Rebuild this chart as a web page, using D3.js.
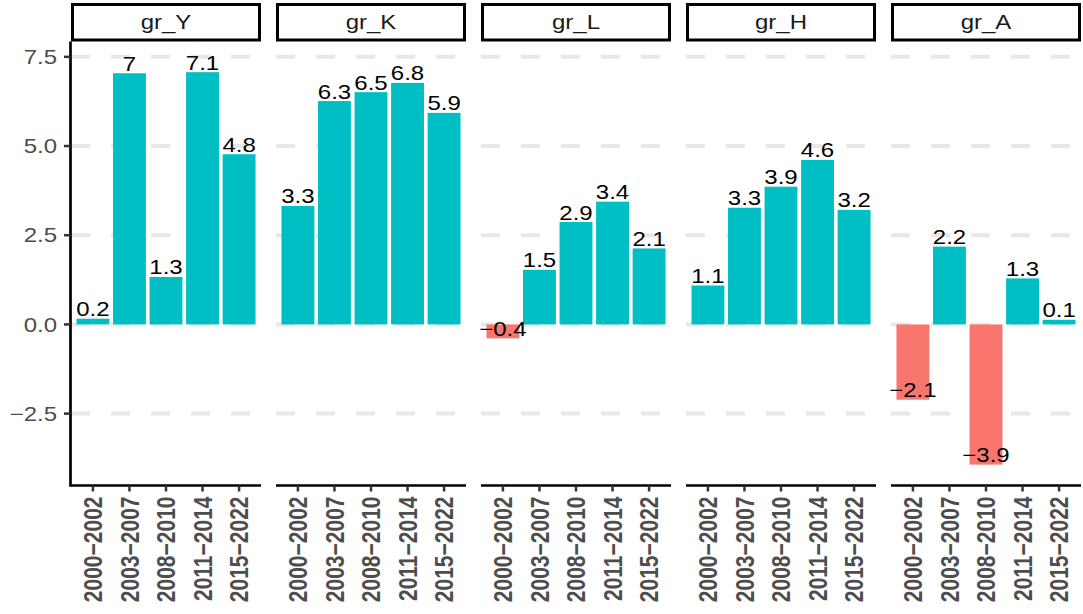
<!DOCTYPE html>
<html>
<head>
<meta charset="utf-8">
<script src="https://cdn.jsdelivr.net/npm/d3@7"></script>
<style>
  body { margin: 0; background: #fff; }
  text { font-family: "Liberation Sans", Arial, sans-serif; }
</style>
</head>
<body>
<div id="chart"></div>
<script>

/* DATA: growth rates by period, one array per facet */
const panels = ["gr_Y", "gr_K", "gr_L", "gr_H", "gr_A"];
const periods = ["2000−2002", "2003−2007", "2008−2010", "2011−2014", "2015−2022"];
const grY = [0.16, 7.04, 1.33, 7.07, 4.77];
const grK = [3.32, 6.26, 6.51, 6.77, 5.93];
const grL = [-0.39, 1.53, 2.87, 3.44, 2.13];
const grH = [1.09, 3.27, 3.86, 4.61, 3.21];
const grA = [-2.11, 2.18, -3.93, 1.29, 0.13];
const yTicks = [-2.5, 0, 2.5, 5, 7.5];

const series = [grY, grK, grL, grH, grA];

/* SVG CANVAS */
const width = 1083;
const height = 614;
const svg = d3.select("#chart")
    .append("svg")
    .attr("width", width)
    .attr("height", height);

// the picture is stretched a bit horizontally, so text gets the same stretch
const stretch = 1.2;

const panelLeft = 71;
const panelStep = 205;
const panelWidth = 190;
const plotTop = 41.5;
const plotBottom = 485.5;

/* SCALES */
const y = d3.scaleLinear()
    .domain([-4.515, 7.93])
    .range([plotBottom, plotTop]);

const x = d3.scalePoint()
    .domain(periods)
    .range([0, panelWidth])
    .padding(0.6);

const barW = x.step() * 0.9;

const fmt = d3.format(".1f");
function label(v) {
    let r = Math.round(v * 10) / 10;
    return String(r).replace("-", "−");
}

/* DRAW EACH FACET */
panels.forEach((name, i) => {
    const g = svg.append("g")
        .attr("transform", `translate(${panelLeft + i * panelStep},0)`);

    // dashed gridlines
    g.append("g")
        .selectAll("line")
        .data(yTicks)
        .enter()
        .append("line")
            .attr("x1", 0)
            .attr("x2", panelWidth)
            .attr("y1", d => y(d))
            .attr("y2", d => y(d))
            .attr("stroke", "#E8E8E8")
            .attr("stroke-width", 4)
            .attr("stroke-dasharray", "19,21");

    // bars
    const data = periods.map((p, j) => ({ period: p, value: series[i][j] }));

    g.append("g")
        .selectAll("rect")
        .data(data)
        .enter()
        .append("rect")
            .attr("x", d => x(d.period) - barW / 2)
            .attr("width", barW)
            .attr("y", d => y(Math.max(0, d.value)))
            .attr("height", d => Math.abs(y(d.value) - y(0)))
            .attr("fill", d => d.value < 0 ? "#F8766D" : "#00BFC4");

    // value labels
    g.append("g")
        .selectAll("text")
        .data(data)
        .enter()
        .append("text")
            .attr("transform", d => `translate(${x(d.period)},${y(d.value) - 2.5}) scale(${stretch},1)`)
            .attr("text-anchor", "middle")
            .attr("font-size", 20)
            .attr("fill", "#000")
            .text(d => label(d.value));

    // strip
    g.append("rect")
        .attr("x", 1.5)
        .attr("y", 4.5)
        .attr("width", panelWidth - 3)
        .attr("height", plotTop - 6)
        .attr("fill", "#fff")
        .attr("stroke", "#000")
        .attr("stroke-width", 3);

    g.append("text")
        .attr("transform", `translate(${panelWidth / 2},${(plotTop + 3) / 2}) scale(${stretch},1)`)
        .attr("text-anchor", "middle")
        .attr("dy", "0.36em")
        .attr("font-size", 20)
        .attr("fill", "#1A1A1A")
        .text(name);

    // x axis
    g.append("line")
        .attr("x1", 0)
        .attr("x2", panelWidth)
        .attr("y1", plotBottom)
        .attr("y2", plotBottom)
        .attr("stroke", "#000")
        .attr("stroke-width", 2.7);

    g.append("g")
        .selectAll("line")
        .data(periods)
        .enter()
        .append("line")
            .attr("x1", d => x(d))
            .attr("x2", d => x(d))
            .attr("y1", plotBottom)
            .attr("y2", plotBottom + 6)
            .attr("stroke", "#333")
            .attr("stroke-width", 2.5);

    g.append("g")
        .selectAll("text")
        .data(periods)
        .enter()
        .append("text")
            .attr("transform", d => `translate(${x(d)},${plotBottom + 11}) scale(${stretch},1) rotate(-90)`)
            .attr("text-anchor", "end")
            .attr("dy", "0.36em")
            .attr("font-size", 21)
            .attr("font-weight", "bold")
            .attr("fill", "#4D4D4D")
            .text(d => d);
});

/* Y AXIS on the first facet */
const yAxis = svg.append("g");

yAxis.append("line")
    .attr("x1", panelLeft - 0.5)
    .attr("x2", panelLeft - 0.5)
    .attr("y1", plotTop)
    .attr("y2", plotBottom + 1.3)
    .attr("stroke", "#000")
    .attr("stroke-width", 2.7);

yAxis.selectAll(".tick")
    .data(yTicks)
    .enter()
    .append("line")
        .attr("x1", panelLeft - 7)
        .attr("x2", panelLeft - 0.5)
        .attr("y1", d => y(d))
        .attr("y2", d => y(d))
        .attr("stroke", "#333")
        .attr("stroke-width", 2.5);

yAxis.selectAll("text")
    .data(yTicks)
    .enter()
    .append("text")
        .attr("transform", d => `translate(${panelLeft - 14},${y(d)}) scale(${stretch},1)`)
        .attr("text-anchor", "end")
        .attr("dy", "0.36em")
        .attr("font-size", 20)
        .attr("fill", "#4D4D4D")
        .text(d => fmt(d));

</script>
</body>
</html>
